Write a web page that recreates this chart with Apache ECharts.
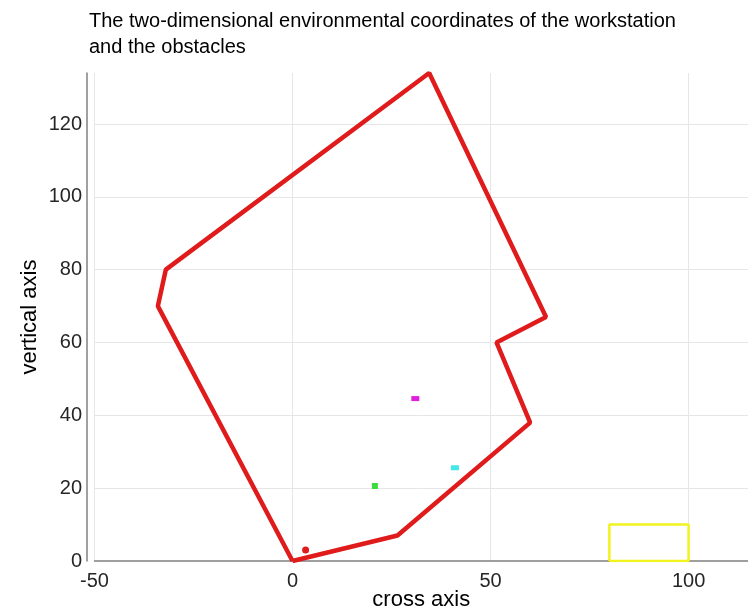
<!DOCTYPE html>
<html>
<head>
<meta charset="utf-8">
<script src="https://cdn.jsdelivr.net/npm/echarts@6/dist/echarts.min.js"></script>
<style>
html,body{margin:0;padding:0;background:#fff;}
#chart{width:748px;height:612px;}
</style>
</head>
<body>
<div id="chart"></div>
<script>
// Workspace boundary polygon (closed)
const boundaryX = [0, 26.5, 60, 51.5, 64, 34.5, -32, -34, 0];
const boundaryY = [0, 7, 38, 60, 67, 134, 80, 70, 0];
// Workstation rectangle (closed)
const stationX = [80, 100, 100, 80, 80];
const stationY = [0, 0, 10, 10, 0];
// Obstacles / points
const startPoint = [3.3, 3];
const greenObstacle = [20.8, 20.6];
const magentaObstacle = [31, 44.6];
const cyanObstacle = [41, 25.6];
// Axis ranges
const xRange = [-50, 115];
const yRange = [0, 134];

const zip = (xs, ys) => xs.map((x, i) => [x, ys[i]]);

const chart = echarts.init(document.getElementById('chart'));
const fam = '"Liberation Sans", Arial, sans-serif';
chart.setOption({
  animation: false,
  title: {
    text: 'The two-dimensional environmental coordinates of the workstation\nand the obstacles',
    left: 84, top: 3,
    textStyle: { fontSize: 20, fontWeight: 'normal', color: '#000', fontFamily: fam, lineHeight: 26 }
  },
  grid: { left: 94.5, top: 73, right: 0, bottom: 51, outerBoundsMode: 'none', containLabel: false },
  xAxis: {
    type: 'value', min: xRange[0], max: xRange[1], interval: 50,
    name: 'cross axis', nameLocation: 'middle', nameGap: 28, nameMoveOverlap: false,
    nameTextStyle: { fontSize: 22, color: '#000', fontFamily: fam },
    axisLine: { show: true, onZero: false, lineStyle: { color: '#808080', width: 1.5 } },
    axisTick: { show: false },
    axisLabel: { fontSize: 20, color: '#262626', fontFamily: fam, margin: 10, showMaxLabel: false },
    splitLine: { show: true, showMaxLine: false, lineStyle: { color: '#e6e6e6', width: 1 } }
  },
  yAxis: {
    type: 'value', min: yRange[0], max: yRange[1], interval: 20, offset: 7.5,
    name: 'vertical axis', nameLocation: 'middle', nameGap: 46, nameMoveOverlap: false,
    nameTextStyle: { fontSize: 22, color: '#000', fontFamily: fam },
    axisLine: { show: true, onZero: false, lineStyle: { color: '#808080', width: 1.5 } },
    axisTick: { show: false },
    axisLabel: { fontSize: 20, color: '#262626', fontFamily: fam, margin: 5, showMaxLabel: false },
    splitLine: { show: true, showMaxLine: false, showMinLine: false, lineStyle: { color: '#e6e6e6', width: 1 } }
  },
  series: [
    {
      type: 'line', data: zip(boundaryX, boundaryY), showSymbol: false, symbol: 'none',
      lineStyle: { color: '#e01b1b', width: 4.5 }, z: 3
    },
    {
      type: 'line', data: zip(stationX, stationY), showSymbol: false, symbol: 'none',
      lineStyle: { color: '#f2f21e', width: 2.5 }, z: 3
    },
    {
      type: 'scatter', data: [startPoint], symbol: 'circle', symbolSize: 7,
      itemStyle: { color: '#e01b1b', opacity: 1 }, z: 4
    },
    {
      type: 'scatter', data: [greenObstacle], symbol: 'rect', symbolSize: [6, 6],
      itemStyle: { color: '#3cdc3c', opacity: 1 }, z: 4
    },
    {
      type: 'scatter', data: [magentaObstacle], symbol: 'rect', symbolSize: [8, 5],
      itemStyle: { color: '#e020e0', opacity: 1 }, z: 4
    },
    {
      type: 'scatter', data: [cyanObstacle], symbol: 'rect', symbolSize: [8, 5],
      itemStyle: { color: '#40e8e8', opacity: 1 }, z: 4
    }
  ]
});
</script>
</body>
</html>
